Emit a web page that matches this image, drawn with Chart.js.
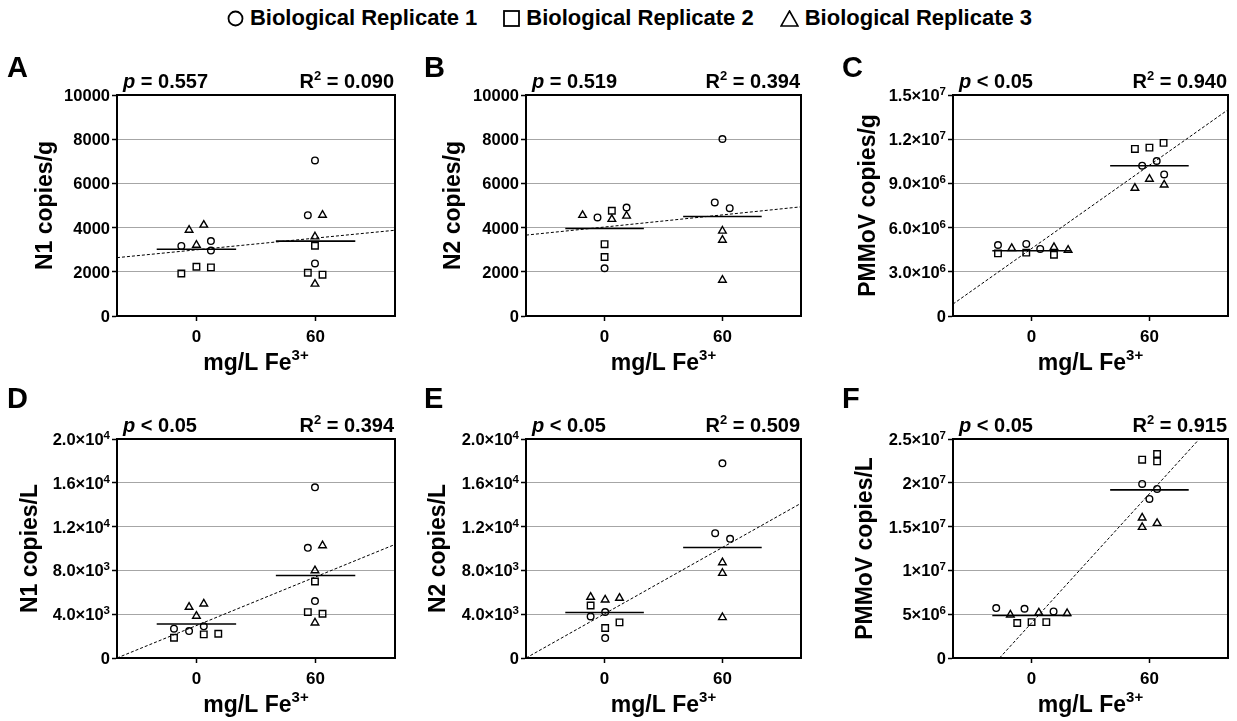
<!DOCTYPE html>
<html>
<head>
<meta charset="utf-8">
<script src="https://cdn.jsdelivr.net/npm/chart.js@4.4.0/dist/chart.umd.min.js"></script>
<style>
  body { margin: 0; background: #fff; width: 1237px; height: 721px; position: relative; overflow: hidden;
         font-family: "Liberation Sans", Arial, sans-serif; }
  canvas { position: absolute; }
  #legend { position: absolute; top: 6px; left: 22px; width: 1215px; display: flex; justify-content: center;
            font-weight: bold; font-size: 22px; line-height: 24px; color: #000; }
  #legend .item { display: flex; align-items: center; margin: 0 13px; }
  #legend svg { margin-right: 6px; }
</style>
</head>
<body>
<div id="legend">
  <span class="item"><svg width="17" height="17"><circle cx="8.5" cy="8.5" r="7" fill="none" stroke="#000" stroke-width="1.8"/></svg>Biological Replicate 1</span>
  <span class="item"><svg width="17" height="17"><rect x="1" y="1" width="15" height="15" fill="none" stroke="#000" stroke-width="1.8"/></svg>Biological Replicate 2</span>
  <span class="item"><svg width="19" height="17"><polygon points="9.5,1 18,16 1,16" fill="none" stroke="#000" stroke-width="1.6"/></svg>Biological Replicate 3</span>
</div>
<canvas id="panelA" width="410" height="339" style="left:0;top:40px"></canvas>
<canvas id="panelB" width="410" height="339" style="left:410px;top:40px"></canvas>
<canvas id="panelC" width="417" height="339" style="left:820px;top:40px"></canvas>
<canvas id="panelD" width="410" height="342" style="left:0;top:379px"></canvas>
<canvas id="panelE" width="410" height="342" style="left:410px;top:379px"></canvas>
<canvas id="panelF" width="417" height="342" style="left:820px;top:379px"></canvas>
<script>
// x categories (mg/L Fe3+) and their tick labels
const doses = [0, 60];
const doseLabels = ['0', '60'];

// A: N1 copies/g  -- points are [jittered x, value]
const n1gRep1 = [[-7.6, 3170], [7.3, 3390], [7.3, 2960], [59.7, 7040], [56.1, 4560], [59.7, 2380]];
const n1gRep2 = [[-7.6, 1920], [0, 2230], [7.3, 2200], [59.7, 3180], [56.1, 1960], [63.5, 1870]];
const n1gRep3 = [[-3.7, 3890], [3.7, 4120], [0, 3210], [63.5, 4570], [59.7, 3590], [59.7, 1450]];
const n1gMeans = [3020, 3390];
const n1gFit = [[-40, 2640], [100, 3880]];
const n1gTicks = ['0', '2000', '4000', '6000', '8000', '10000'];

// B: N2 copies/g
const n2gRep1 = [[-3.6, 4460], [11.2, 4910], [0, 2160], [60, 8010], [56.1, 5140], [63.7, 4880]];
const n2gRep2 = [[3.7, 4760], [0, 3250], [0, 2670]];
const n2gRep3 = [[-11.2, 4560], [3.7, 4380], [11.2, 4530], [60, 3850], [60, 3440], [60, 1630]];
const n2gMeans = [3960, 4500];
const n2gFit = [[-40, 3660], [100, 4940]];
const n2gTicks = ['0', '2000', '4000', '6000', '8000', '10000'];

// C: PMMoV copies/g
const pmgRep1 = [[-17.1, 4.82e6], [-2.7, 4.89e6], [4.4, 4.55e6], [56.3, 1.020e7], [63.7, 1.052e7], [67.5, 9.61e6]];
const pmgRep2 = [[-17.1, 4.25e6], [-2.7, 4.30e6], [11.4, 4.16e6], [52.6, 1.134e7], [60, 1.143e7], [67.2, 1.175e7]];
const pmgRep3 = [[-10.1, 4.59e6], [11.4, 4.66e6], [18.6, 4.48e6], [52.6, 8.68e6], [60, 9.30e6], [67.5, 8.91e6]];
const pmgMeans = [4.43e6, 1.020e7];
const pmgFit = [[-40, 8.1e5], [100, 1.40e7]];
const pmgTicks = ['0', '3.0×10^6', '6.0×10^6', '9.0×10^6', '1.2×10^7', '1.5×10^7'];

// D: N1 copies/L
const n1lRep1 = [[-11.3, 2680], [-3.7, 2460], [3.7, 2890], [59.7, 15590], [56.1, 10060], [59.7, 5200]];
const n1lRep2 = [[-11.3, 1850], [3.7, 2160], [11, 2220], [59.7, 6990], [56.1, 4190], [63.5, 4040]];
const n1lRep3 = [[-3.7, 4650], [3.7, 4950], [0, 3830], [63.5, 10270], [59.7, 7990], [59.7, 3220]];
const n1lMeans = [3100, 7540];
const n1lFit = [[-40, 0], [100, 10370]];
const n1lTicks = ['0', '4.0×10^3', '8.0×10^3', '1.2×10^4', '1.6×10^4', '2.0×10^4'];

// E: N2 copies/L
const n2lRep1 = [[-7.1, 3800], [0.3, 4200], [0.3, 1820], [60, 17780], [56.3, 11400], [63.9, 10880]];
const n2lRep2 = [[-7.1, 4800], [0.3, 2740], [7.6, 3250]];
const n2lRep3 = [[-7.1, 5560], [0.3, 5320], [7.6, 5470], [60, 8720], [60, 7750], [60, 3710]];
const n2lMeans = [4160, 10090];
const n2lFit = [[-40, 0], [100, 14130]];
const n2lTicks = ['0', '4.0×10^3', '8.0×10^3', '1.2×10^4', '1.6×10^4', '2.0×10^4'];

// F: PMMoV copies/L
const pmlRep1 = [[-18, 5.70e6], [-3.6, 5.62e6], [11.2, 5.32e6], [56.3, 1.987e7], [63.9, 1.930e7], [60, 1.816e7]];
const pmlRep2 = [[-7.3, 3.99e6], [0, 4.10e6], [7.5, 4.10e6], [56.3, 2.264e7], [63.9, 2.329e7], [63.9, 2.245e7]];
const pmlRep3 = [[-10.8, 4.94e6], [3.7, 5.17e6], [18.1, 5.09e6], [56.3, 1.600e7], [56.3, 1.493e7], [63.9, 1.539e7]];
const pmlMeans = [4.86e6, 1.919e7];
const pmlFit = [[-16.3, 0], [85.4, 2.5e7]];
const pmlTicks = ['0', '5×10^6', '1×10^7', '1.5×10^7', '2×10^7', '2.5×10^7'];

const FONT = '"Liberation Sans", Arial, sans-serif';
Chart.defaults.font.family = FONT;
Chart.defaults.font.weight = 'bold';
Chart.defaults.color = '#000';

// draws a run of [text, size, rise, italic] pieces starting at x
function drawRuns(ctx, runs, x, y) {
    runs.forEach(r => {
        ctx.font = (r[3] ? 'italic ' : '') + 'bold ' + r[1] + 'px ' + FONT;
        ctx.fillText(r[0], x, y - r[2]);
        x += ctx.measureText(r[0]).width;
    });
}
function runsWidth(ctx, runs) {
    let w = 0;
    runs.forEach(r => {
        ctx.font = (r[3] ? 'italic ' : '') + 'bold ' + r[1] + 'px ' + FONT;
        w += ctx.measureText(r[0]).width;
    });
    return w;
}
// '1.5×10^7' -> mantissa run + raised exponent run
function tickRuns(label) {
    const parts = label.split('^');
    const runs = [[parts[0], 16.5, 0]];
    if (parts[1]) runs.push([parts[1], 11.5, 6]);
    return runs;
}

// top + right frame, panel letter, p value, R², y tick labels and the x-axis title
const panelDecor = {
    id: 'panelDecor',
    afterDraw(chart, args, opts) {
        const ctx = chart.ctx;
        const a = chart.chartArea;
        ctx.save();
        ctx.strokeStyle = '#000';
        ctx.lineWidth = 2;
        ctx.beginPath();
        ctx.moveTo(a.left, a.top);
        ctx.lineTo(a.right, a.top);
        ctx.lineTo(a.right, a.bottom);
        ctx.stroke();

        ctx.fillStyle = '#000';
        ctx.textBaseline = 'alphabetic';
        ctx.textAlign = 'left';
        ctx.font = 'bold 29px ' + FONT;
        ctx.fillText(opts.letter, opts.letterX, opts.letterY);

        const y = a.top - 7.5;
        drawRuns(ctx, [['p', 20, 0, true], [opts.pText, 20, 0]], a.left + 6, y);

        const r2Runs = [['R', 20, 0], ['2', 13, 8], [' = ' + opts.r2, 20, 0]];
        drawRuns(ctx, r2Runs, a.right - 1 - runsWidth(ctx, r2Runs), y);

        const xtRuns = [['mg/L Fe', 23, 0], ['3+', 15, 10]];
        drawRuns(ctx, xtRuns, (a.left + a.right) / 2 - runsWidth(ctx, xtRuns) / 2, a.bottom + 54);

        // y tick labels with proper superscript exponents
        const ys = chart.scales.y;
        ys.ticks.forEach((t, i) => {
            const runs = tickRuns(opts.tickLabels[i]);
            const py = ys.getPixelForValue(t.value) + 6;
            drawRuns(ctx, runs, a.left - 7 - runsWidth(ctx, runs), py);
        });
        ctx.restore();
    }
};

const markerStyles = [
    { pointStyle: 'circle', radius: 3.3 },
    { pointStyle: 'rect', radius: 4.6 },
    { pointStyle: 'triangle', radius: 4.4 }
];

function toPoints(pairs) {
    return pairs.map(p => ({ x: p[0], y: p[1] }));
}

function buildDatasets(reps, means, fit) {
    const sets = [];
    reps.forEach((rep, i) => {
        sets.push({
            data: toPoints(rep),
            pointStyle: markerStyles[i].pointStyle,
            pointRadius: markerStyles[i].radius,
            pointBackgroundColor: 'rgba(0,0,0,0)',
            pointBorderColor: '#000',
            pointBorderWidth: 1.4,
            showLine: false
        });
    });
    means.forEach((m, i) => {
        sets.push({
            data: [{ x: doses[i] - 20, y: m }, { x: doses[i] + 20, y: m }],
            showLine: true,
            borderColor: '#000',
            borderWidth: 1.6,
            pointRadius: 0
        });
    });
    sets.push({
        data: toPoints(fit),
        showLine: true,
        borderColor: '#000',
        borderWidth: 1,
        borderDash: [3, 2],
        pointRadius: 0
    });
    return sets;
}

function makePanel(cfg) {
    const canvas = document.getElementById(cfg.id);
    const colLeft = parseFloat(canvas.style.left);
    const rowTop = parseFloat(canvas.style.top);
    new Chart(canvas, {
        type: 'scatter',
        data: { datasets: buildDatasets(cfg.reps, cfg.means, cfg.fit) },
        options: {
            responsive: false,
            animation: false,
            events: [],
            layout: {
                autoPadding: false,
                padding: { left: 0, top: cfg.chartTop - rowTop, right: colLeft + canvas.width - cfg.chartRight, bottom: 0 }
            },
            plugins: {
                legend: { display: false },
                tooltip: { enabled: false },
                panelDecor: {
                    letter: cfg.letter,
                    letterX: cfg.letterX,
                    letterY: cfg.letterY - rowTop,
                    pText: cfg.pText,
                    r2: cfg.r2,
                    tickLabels: cfg.tickLabels
                }
            },
            scales: {
                x: {
                    type: 'linear',
                    min: -40,
                    max: 100,
                    afterBuildTicks: scale => { scale.ticks = doses.map(v => ({ value: v })); },
                    afterFit: scale => { scale.height = 63; },
                    ticks: {
                        font: { size: 17 },
                        padding: 6,
                        callback: (v, i) => doseLabels[i]
                    },
                    grid: { display: true, drawOnChartArea: false, drawTicks: true, tickLength: 5, tickColor: '#000', tickWidth: 1.5 },
                    border: { color: '#000', width: 2 }
                },
                y: {
                    min: 0,
                    max: cfg.yMax,
                    afterFit: scale => { scale.width = cfg.chartLeft - colLeft; },
                    ticks: {
                        stepSize: cfg.yMax / 5,
                        font: { size: 17 },
                        padding: 2,
                        color: 'rgba(0,0,0,0)',
                        callback: (v, i) => cfg.tickLabels[i]
                    },
                    grid: { color: '#a6a6a6', lineWidth: 1, tickLength: 5, tickColor: '#000', tickWidth: 1.5 },
                    border: { color: '#000', width: 2 },
                    title: { display: true, text: cfg.yTitle, font: { size: 23 }, padding: { top: cfg.titlePad, bottom: 0 } }
                }
            }
        },
        plugins: [panelDecor]
    });
}

const row1 = { chartTop: 95, letterY: 77 };
const row2 = { chartTop: 439, letterY: 408 };
const col1 = { chartLeft: 117, chartRight: 395, letterX: 7 };
const col2 = { chartLeft: 526, chartRight: 801, letterX: 14 };
const col3 = { chartLeft: 953, chartRight: 1228, letterX: 22 };

makePanel(Object.assign({ id: 'panelA', letter: 'A', reps: [n1gRep1, n1gRep2, n1gRep3], means: n1gMeans, fit: n1gFit,
    yMax: 10000, tickLabels: n1gTicks, yTitle: 'N1 copies/g', titlePad: 32, pText: ' = 0.557', r2: '0.090' }, row1, col1));
makePanel(Object.assign({ id: 'panelB', letter: 'B', reps: [n2gRep1, n2gRep2, n2gRep3], means: n2gMeans, fit: n2gFit,
    yMax: 10000, tickLabels: n2gTicks, yTitle: 'N2 copies/g', titlePad: 30, pText: ' = 0.519', r2: '0.394' }, row1, col2));
makePanel(Object.assign({ id: 'panelC', letter: 'C', reps: [pmgRep1, pmgRep2, pmgRep3], means: pmgMeans, fit: pmgFit,
    yMax: 1.5e7, tickLabels: pmgTicks, yTitle: 'PMMoV copies/g', titlePad: 35, pText: ' < 0.05', r2: '0.940' }, row1, col3));
makePanel(Object.assign({ id: 'panelD', letter: 'D', reps: [n1lRep1, n1lRep2, n1lRep3], means: n1lMeans, fit: n1lFit,
    yMax: 2e4, tickLabels: n1lTicks, yTitle: 'N1 copies/L', titlePad: 17, pText: ' < 0.05', r2: '0.394' }, row2, col1));
makePanel(Object.assign({ id: 'panelE', letter: 'E', reps: [n2lRep1, n2lRep2, n2lRep3], means: n2lMeans, fit: n2lFit,
    yMax: 2e4, tickLabels: n2lTicks, yTitle: 'N2 copies/L', titlePad: 15, pText: ' < 0.05', r2: '0.509' }, row2, col2));
makePanel(Object.assign({ id: 'panelF', letter: 'F', reps: [pmlRep1, pmlRep2, pmlRep3], means: pmlMeans, fit: pmlFit,
    yMax: 2.5e7, tickLabels: pmlTicks, yTitle: 'PMMoV copies/L', titlePad: 32, pText: ' < 0.05', r2: '0.915' }, row2, col3));
</script>
</body>
</html>
